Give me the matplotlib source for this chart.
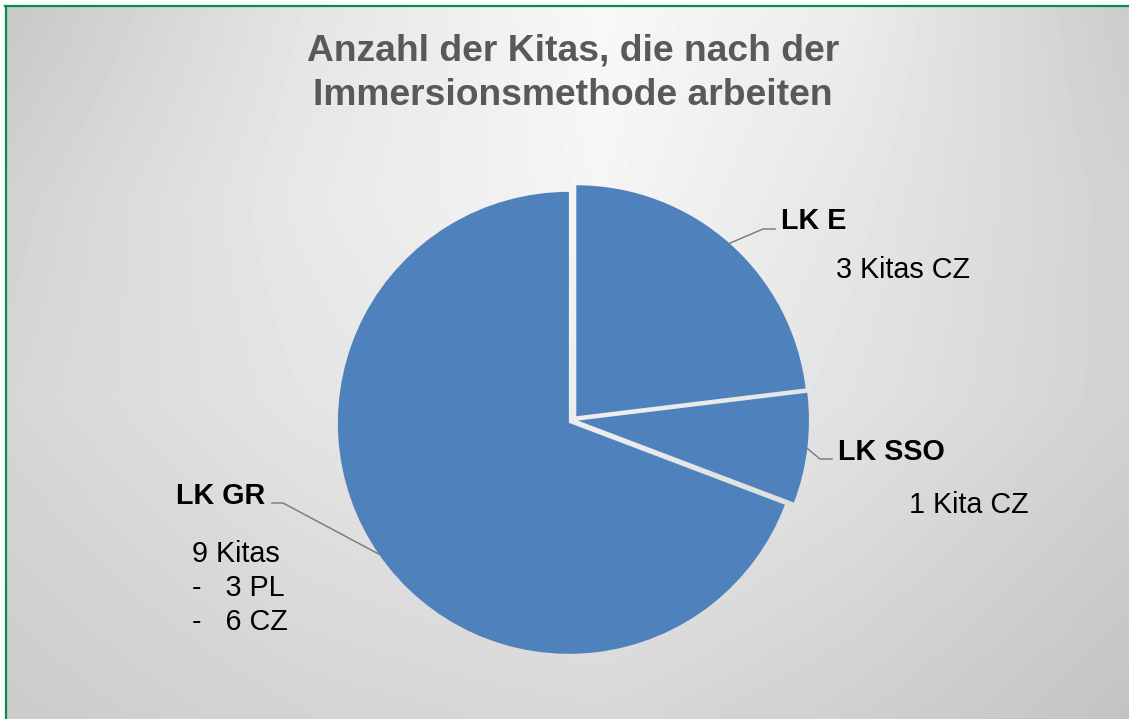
import numpy as np
import matplotlib.pyplot as plt

plt.rcParams['font.family'] = ['Liberation Sans', 'DejaVu Sans']

# Daten
kreise = ['LK E', 'LK SSO', 'LK GR']
anzahl = [3, 1, 9]
details = ['3 Kitas CZ', '1 Kita CZ', '9 Kitas\n-   3 PL\n-   6 CZ']
titel = 'Anzahl der Kitas, die nach der\nImmersionsmethode arbeiten'

W, H = 1129, 719
blau = '#4f81bd'
grau_linie = '#7f7f7f'

fig = plt.figure(figsize=(W / 100, H / 100), dpi=100)
ax = fig.add_axes([0, 0, 1, 1])

gx = [10, 300, 600, 850, 1120]
gy = [10, 200, 400, 710]
gw = np.array([[200, 228, 248, 236, 205],
               [210, 232, 245, 230, 210],
               [214, 228, 238, 226, 210],
               [204, 212, 216, 208, 196]], dtype=float)
xs = np.arange(7, W)
ys = np.arange(7, H)
zeilen_x = np.array([np.interp(xs, gx, row) for row in gw])
g = np.array([np.interp(ys, gy, zeilen_x[:, j]) for j in range(len(xs))]).T / 255.0
ax.imshow(g, cmap='gray', vmin=0, vmax=1, extent=(7, W, 0, H - 7),
          origin='upper', interpolation='bilinear', zorder=0)

# gruener Rahmen (nur links und oben sichtbar)
ax.plot([6, 6], [0, H - 6], color='#00924a', lw=1.6, zorder=1)
ax.plot([5, W], [H - 6, H - 6], color='#00924a', lw=1.6, zorder=1)

# Kreisdiagramm
cx, cy, rad = 573, H - 420, 231
wedges, _ = ax.pie(anzahl, colors=[blau] * 3, startangle=90, counterclock=False,
                   center=(cx, cy), radius=rad, explode=[5, 5, 5],
                   wedgeprops=dict(linewidth=0), frame=True)
for w in wedges:
    w.set_zorder(2)

ax.set_xlim(0, W)
ax.set_ylim(0, H)
ax.set_aspect('auto')
ax.axis('off')

# Beschriftungen (Positionen in Bildkoordinaten, y nach unten)
knick = [(763, 229, 775), (820, 459, 832), (283, 503, 272)]
name_pos = [(781, 229), (838, 460), (176, 504)]
detail_pos = [(836, 278), (909, 513), (192, 562)]

for w, name, det, kn, npos, dpos in zip(wedges, kreise, details, knick, name_pos, detail_pos):
    tm = np.deg2rad((w.theta1 + w.theta2) / 2)
    x0 = w.center[0] + w.r * np.cos(tm)
    y0 = w.center[1] + w.r * np.sin(tm)
    ax.plot([x0, kn[0], kn[2]], [y0, H - kn[1], H - kn[1]],
            color=grau_linie, lw=1.1, zorder=3)
    ax.text(npos[0], H - npos[1], name, fontsize=20.7, fontweight='bold',
            color='black', ha='left', va='baseline', zorder=4)
    for i, z in enumerate(det.split('\n')):
        ax.text(dpos[0], H - dpos[1] - i * 34, z, fontsize=20.7,
                color='black', ha='left', va='baseline', zorder=4)

# Titel
for i, zeile in enumerate(titel.split('\n')):
    ax.text(573, H - 61 - i * 44, zeile, fontsize=26.8, fontweight='bold',
            color='#595959', ha='center', va='baseline', zorder=4)

fig.savefig('out.png', dpi=100)
